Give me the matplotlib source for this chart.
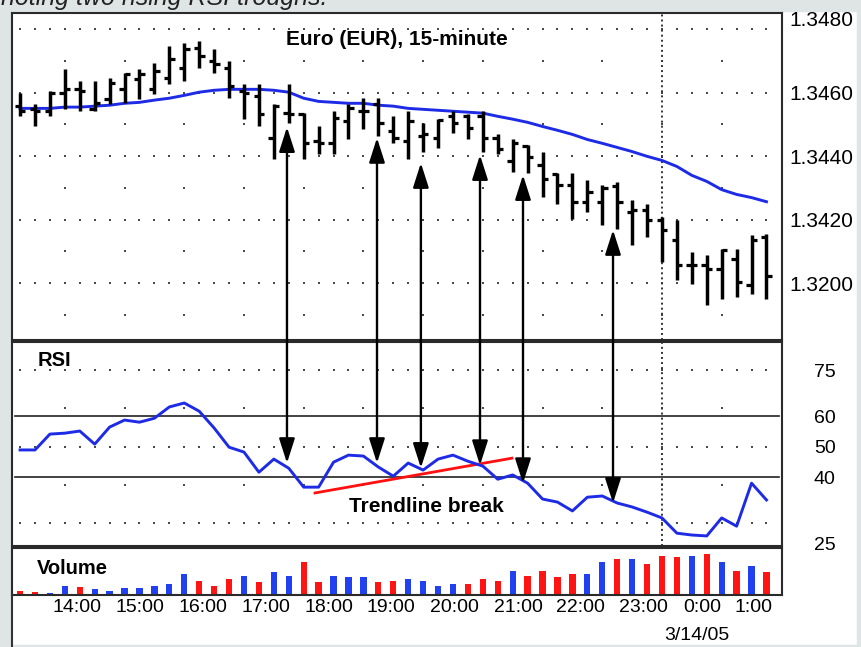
import matplotlib
matplotlib.use("Agg")
import matplotlib.pyplot as plt
import matplotlib.transforms as mtransforms
from matplotlib.patches import ConnectionPatch, Rectangle, ArrowStyle
from matplotlib.lines import Line2D
import numpy as np

plt.rcParams['font.family'] = ['Liberation Sans', 'DejaVu Sans']

# ---------------- data ----------------
opens = [1.34557, 1.34547, 1.34541, 1.34598, 1.34610, 1.34547, 1.34579, 1.34610, 1.34642, 1.34610,
         1.34645, 1.34677, 1.34740, 1.34699, 1.34677, 1.34604, 1.34588, 1.34456, 1.34535, 1.34531,
         1.34446, 1.34440, 1.34509, 1.34541, 1.34563, 1.34478, 1.34446, 1.34462, 1.34456, 1.34525,
         1.34525, 1.34525, 1.34456, 1.34383, 1.34430, 1.34373, 1.34342, 1.34310, 1.34256, 1.34256,
         1.34304, 1.34225, 1.34231, 1.34199, 1.34136, 1.34057, 1.34057, 1.34044, 1.34076, 1.33994,
         1.34145]
highs = [1.34598, 1.34563, 1.34604, 1.34674, 1.34636, 1.34636, 1.34645, 1.34661, 1.34674, 1.34693,
         1.34746, 1.34756, 1.34762, 1.34737, 1.34699, 1.34626, 1.34626, 1.34563, 1.34626, 1.34535,
         1.34493, 1.34541, 1.34563, 1.34582, 1.34582, 1.34525, 1.34541, 1.34503, 1.34516, 1.34541,
         1.34531, 1.34541, 1.34468, 1.34452, 1.34436, 1.34414, 1.34345, 1.34345, 1.34326, 1.34310,
         1.34319, 1.34262, 1.34250, 1.34209, 1.34199, 1.34098, 1.34089, 1.34108, 1.34108, 1.34152,
         1.34155]
lows = [1.34525, 1.34493, 1.34525, 1.34547, 1.34541, 1.34541, 1.34563, 1.34566, 1.34579, 1.34595,
        1.34626, 1.34636, 1.34677, 1.34661, 1.34582, 1.34516, 1.34493, 1.34392, 1.34503, 1.34392,
        1.34405, 1.34405, 1.34452, 1.34484, 1.34462, 1.34440, 1.34392, 1.34414, 1.34424, 1.34471,
        1.34452, 1.34414, 1.34405, 1.34351, 1.34345, 1.34272, 1.34250, 1.34202, 1.34225, 1.34183,
        1.34171, 1.34120, 1.34145, 1.34066, 1.34010, 1.33997, 1.33930, 1.33949, 1.33956, 1.33965,
        1.33949]
closes = [1.34541, 1.34541, 1.34598, 1.34610, 1.34604, 1.34566, 1.34629, 1.34658, 1.34658, 1.34667,
          1.34705, 1.34737, 1.34715, 1.34689, 1.34620, 1.34598, 1.34531, 1.34557, 1.34531, 1.34440,
          1.34440, 1.34519, 1.34550, 1.34541, 1.34503, 1.34456, 1.34510, 1.34468, 1.34512, 1.34503,
          1.34487, 1.34456, 1.34421, 1.34440, 1.34398, 1.34329, 1.34310, 1.34256, 1.34288, 1.34300,
          1.34256, 1.34231, 1.34199, 1.34168, 1.34057, 1.34057, 1.34044, 1.34104, 1.34003, 1.34136,
          1.34022]
moving_avg = [1.34550, 1.34550, 1.34550, 1.34554, 1.34554, 1.34557, 1.34560, 1.34566, 1.34569, 1.34576,
              1.34582, 1.34591, 1.34601, 1.34607, 1.34610, 1.34610, 1.34610, 1.34607, 1.34601, 1.34582,
              1.34572, 1.34569, 1.34566, 1.34566, 1.34560, 1.34557, 1.34550, 1.34547, 1.34544, 1.34541,
              1.34538, 1.34535, 1.34525, 1.34516, 1.34506, 1.34493, 1.34481, 1.34468, 1.34452, 1.34440,
              1.34427, 1.34414, 1.34399, 1.34386, 1.34367, 1.34339, 1.34320, 1.34294, 1.34279, 1.34269,
              1.34256]
rsi = [48.9, 48.9, 54.1, 54.4, 55.1, 50.8, 56.4, 58.7, 58.0, 59.3,
       63.0, 64.3, 61.6, 56.1, 49.8, 48.2, 41.6, 45.9, 42.9, 36.7,
       36.7, 44.9, 47.2, 46.9, 43.3, 40.3, 44.6, 42.3, 45.9, 47.2,
       45.2, 43.6, 39.3, 40.7, 38.0, 32.8, 31.8, 28.9, 33.4, 33.8,
       31.5, 30.2, 28.5, 26.6, 21.6, 21.0, 20.7, 26.6, 23.9, 38.0,
       32.5]
volume = [43, 27, 23, 93, 77, 57, 43, 73, 73, 93,
          107, 207, 143, 93, 160, 190, 127, 227, 190, 327,
          127, 190, 177, 177, 127, 140, 160, 140, 93, 110,
          110, 160, 143, 243, 193, 243, 177, 210, 210, 327,
          360, 357, 310, 393, 377, 393, 410, 327, 243, 293,
          227]
volume_dir = ['down', 'down', 'up', 'up', 'down', 'up', 'up', 'up', 'up', 'up',
              'up', 'up', 'down', 'down', 'down', 'up', 'down', 'up', 'up', 'down',
              'down', 'up', 'up', 'up', 'down', 'down', 'up', 'up', 'up', 'up',
              'down', 'down', 'down', 'up', 'down', 'down', 'down', 'down', 'up', 'up',
              'down', 'up', 'down', 'down', 'down', 'up', 'down', 'up', 'down', 'up',
              'down']

price_ticks = [1.3480, 1.3460, 1.3440, 1.3420, 1.3400]
price_tick_labels = ["1.3480", "1.3460", "1.3440", "1.3420", "1.3200"]
rsi_ticks = [75, 60, 50, 40, 25]
rsi_tick_labels = ["75", "60", "50", "40", "25"]
time_tick_pos = [3.82, 8.04, 12.26, 16.48, 20.70, 24.85, 29.07, 33.36, 37.51, 41.79, 45.68, 49.16]
time_tick_labels = ["14:00", "15:00", "16:00", "17:00", "18:00", "19:00", "20:00",
                    "21:00", "22:00", "23:00", "0:00", "1:00"]
day_break_bar = 43
date_label = "3/14/05"

arrow_bar = [17.88, 23.91, 26.85, 30.81, 33.69, 39.72]
arrow_price = [1.34491, 1.34457, 1.34378, 1.34403, 1.34340, 1.34167]
arrow_rsi = [44.6, 44.6, 43.0, 43.9, 38.0, 31.5]
trend_bar = [19.76, 32.95]
trend_rsi = [34.8, 46.2]

# ---------------- layout ----------------
W, H = 861, 647
fig = plt.figure(figsize=(W / 100, H / 100), dpi=100, facecolor='white')


def box(left, top, right, bottom):
    return [left / W, 1 - bottom / H, (right - left) / W, (bottom - top) / H]


GRAY = '#dfe5e5'
fig.add_artist(Rectangle((0, 0), 11 / W, 1, transform=fig.transFigure, color=GRAY, zorder=0))
fig.add_artist(Rectangle((0, 1 - 11 / H), 1, 11 / H, transform=fig.transFigure, color=GRAY, zorder=0))
fig.add_artist(Rectangle((1 - 4 / W, 0), 4 / W, 1, transform=fig.transFigure, color=GRAY, zorder=0))
fig.add_artist(Rectangle((0, 0), 1, 2 / H, transform=fig.transFigure, color=GRAY, zorder=0))
fig.add_artist(Line2D([12 / W, 12 / W], [0, 1 - 595 / H], transform=fig.transFigure,
                      color='#333333', lw=1.5))

ax_p = fig.add_axes(box(12, 13, 782, 340))
ax_r = fig.add_axes(box(12, 342, 782, 546))
ax_v = fig.add_axes(box(12, 548, 782, 595))

n = len(closes)
x = np.arange(n)
xlim = (-0.54, 51.04)
DOT = '#4a4a4a'
BLUE = '#1e2be6'

for ax in (ax_p, ax_r, ax_v):
    ax.set_xlim(*xlim)
    ax.set_facecolor('white')
    for s in ax.spines.values():
        s.set_color('#2a2a2a')
        s.set_linewidth(1.5)
    ax.tick_params(axis='both', length=0)
    ax.set_xticks([])

hour_cols = np.arange(3, n, 4)

# ----- price panel -----
ax_p.set_ylim(1.338205, 1.348504)
step = price_ticks[0] - price_ticks[1]
for lvl in price_ticks:
    ax_p.plot(x, np.full(n, lvl), ls='none', marker='s', ms=1.5, mew=0, color=DOT, zorder=1)
for lvl in np.array(price_ticks) - step / 2:
    ax_p.plot(hour_cols, np.full(len(hour_cols), lvl), ls='none', marker='s', ms=1.5, mew=0,
              color=DOT, zorder=1)
ax_p.plot(x, moving_avg, color=BLUE, lw=2.1, zorder=2)
ax_p.vlines(x, lows, highs, color='black', lw=2.5, zorder=3)
ax_p.hlines(opens, x - 0.36, x, color='black', lw=2.3, zorder=3)
ax_p.hlines(closes, x, x + 0.36, color='black', lw=2.3, zorder=3)
ax_p.axvline(day_break_bar, color='#333333', lw=1.4, ls=(0, (1, 1.6)), zorder=1)
ax_p.yaxis.tick_right()
ax_p.set_yticks(price_ticks)
ax_p.set_yticklabels(price_tick_labels, fontsize=15)
ax_p.tick_params(axis='y', pad=5)
ax_p.text(0.5, 1 - 27 / 327, "Euro (EUR), 15-minute", transform=ax_p.transAxes,
          ha='center', va='center', fontsize=15, fontweight='bold')
lab0 = ax_p.get_yticklabels()[0]
lab0.set_transform(lab0.get_transform() + mtransforms.ScaledTranslation(0, 11 / 100, fig.dpi_scale_trans))

# ----- RSI panel -----
ax_r.set_ylim(17.4, 84.3)
for lvl in (75, 50, 25):
    ax_r.plot(x, np.full(n, lvl), ls='none', marker='s', ms=1.5, mew=0, color=DOT, zorder=1)
for lvl in (62.5, 37.5):
    ax_r.plot(hour_cols, np.full(len(hour_cols), lvl), ls='none', marker='s', ms=1.5, mew=0,
              color=DOT, zorder=1)
for lvl in (60, 40):
    ax_r.axhline(lvl, color='#222222', lw=1.2, zorder=1, xmin=0.004, xmax=0.996)
ax_r.axvline(day_break_bar, color='#333333', lw=1.4, ls=(0, (1, 1.6)), zorder=1)
ax_r.plot(x, rsi, color=BLUE, lw=2.1, zorder=3)
ax_r.plot(trend_bar, trend_rsi, color='#ff1010', lw=2.0, zorder=2)
ax_r.yaxis.tick_right()
ax_r.set_yticks(rsi_ticks)
ax_r.set_yticklabels(rsi_tick_labels, fontsize=14)
ax_r.tick_params(axis='y', pad=23)
lab25 = ax_r.get_yticklabels()[-1]
lab25.set_transform(lab25.get_transform() + mtransforms.ScaledTranslation(0, -21 / 100, fig.dpi_scale_trans))
ax_r.text(38 / W, 1 - 360 / H, "RSI", transform=fig.transFigure, ha='left', va='center',
          fontsize=14.5, fontweight='bold')
ax_r.text(426 / W, 1 - 506 / H, "Trendline break", transform=fig.transFigure, ha='center',
          va='center', fontsize=15, fontweight='bold', zorder=5)

# ----- volume panel -----
ax_v.set_ylim(0, 470)
vcolors = ['#ff1414' if d == 'down' else '#2140f0' for d in volume_dir]
ax_v.bar(x, volume, width=0.42, color=vcolors, zorder=2)
ax_v.set_yticks([])
ax_v.set_xticks(time_tick_pos)
ax_v.set_xticklabels(time_tick_labels, fontsize=14)
ax_v.tick_params(axis='x', pad=3, length=0)
ax_v.text(37 / W, 1 - 568 / H, "Volume", transform=fig.transFigure, ha='left', va='center',
          fontsize=14.5, fontweight='bold')
fig.text(697 / W, 1 - 635 / H, date_label, ha='center', va='center', fontsize=14)

# caption cut off at the top (as in the reference)
fig.text(1 / W, 1 - 5 / H, "noting two rising RSI troughs.", ha='left', va='baseline',
         fontsize=18, style='italic', color='#222222')

# ----- arrows linking price lows to RSI troughs -----
astyle = ArrowStyle("<|-|>", head_length=1.5, head_width=0.48)
for bx, pv, rv in zip(arrow_bar, arrow_price, arrow_rsi):
    con = ConnectionPatch(xyA=(bx, pv), coordsA=ax_p.transData,
                          xyB=(bx, rv), coordsB=ax_r.transData,
                          arrowstyle=astyle, mutation_scale=10, lw=1.7, color='black',
                          shrinkA=0, shrinkB=0, zorder=6)
    fig.add_artist(con)

fig.savefig("out.png", dpi=100, facecolor=fig.get_facecolor())
